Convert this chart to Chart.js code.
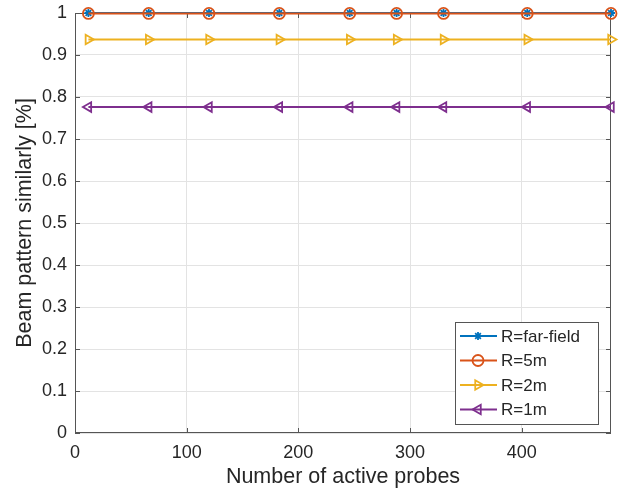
<!DOCTYPE html>
<html>
<head>
<meta charset="utf-8">
<script src="https://cdn.jsdelivr.net/npm/chart.js@4/dist/chart.umd.min.js"></script>
<style>
  html, body { margin: 0; padding: 0; background: #fff; }
  #wrap { width: 634px; height: 493px; }
</style>
</head>
<body>
<div id="wrap"><canvas id="beamChart" width="634" height="493"></canvas></div>
<script>
/* --------------- Data --------------------- */
const activeProbes = [12, 66, 120, 183, 246, 288, 330, 405, 480];
const simFarField = [1, 1, 1, 1, 1, 1, 1, 1, 1];
const sim5m = [0.999, 0.999, 0.999, 0.999, 0.999, 0.999, 0.999, 0.999, 0.999];
const sim2m = [0.937, 0.937, 0.937, 0.937, 0.937, 0.937, 0.937, 0.937, 0.937];
const sim1m = [0.776, 0.776, 0.776, 0.776, 0.776, 0.776, 0.776, 0.776, 0.776];
const seriesLabels = ["R=far-field", "R=5m", "R=2m", "R=1m"];
const xTicks = [0, 100, 200, 300, 400];
const yTicks = [0, 0.1, 0.2, 0.3, 0.4, 0.5, 0.6, 0.7, 0.8, 0.9, 1];

const FONT = "'Liberation Sans', Arial, Helvetica, sans-serif";
const TEXT = "#262626";
const AXIS = "#555";

const pts = (ys) => activeProbes.map((x, i) => ({ x: x, y: ys[i] }));

const mkSet = (label, ys, color, style, rot, radius, order) => ({
  label: label,
  data: pts(ys),
  borderColor: color,
  backgroundColor: "transparent",
  borderWidth: 2,
  pointStyle: style,
  pointRotation: rot,
  pointRadius: radius,
  pointBorderWidth: 1.8,
  pointBorderColor: color,
  pointBackgroundColor: "transparent",
  clip: false,
  order: order,
});

/* --------------- Box + inward ticks, matlab style --------------------- */
const boxAxes = {
  id: "boxAxes",
  beforeDatasetsDraw(chart) {
    const { ctx, chartArea: a, scales } = chart;
    ctx.save();
    ctx.strokeStyle = AXIS;
    ctx.lineWidth = 1;
    ctx.strokeRect(a.left + 0.5, a.top + 0.5, a.right - a.left - 1, a.bottom - a.top - 1);
    const len = 5;
    ctx.beginPath();
    xTicks.forEach((v) => {
      const px = Math.round(scales.x.getPixelForValue(v)) + 0.5;
      ctx.moveTo(px, a.bottom); ctx.lineTo(px, a.bottom - len);
      ctx.moveTo(px, a.top); ctx.lineTo(px, a.top + len);
    });
    yTicks.forEach((v) => {
      const py = Math.round(scales.y.getPixelForValue(v)) + 0.5;
      ctx.moveTo(a.left, py); ctx.lineTo(a.left + len, py);
      ctx.moveTo(a.right, py); ctx.lineTo(a.right - len, py);
    });
    ctx.stroke();
    ctx.restore();
  },
  afterDraw(chart) {
    // legend box in the lower right corner of the axes
    const { ctx, chartArea: a } = chart;
    const sets = chart.data.datasets;
    const boxW = 143, rowH = 24.5;
    const boxH = rowH * sets.length + 4;
    const bx = a.right - 13 - boxW;
    const by = a.bottom - 9 - boxH;
    ctx.save();
    ctx.fillStyle = "#fff";
    ctx.fillRect(bx, by, boxW, boxH);
    ctx.strokeStyle = AXIS;
    ctx.lineWidth = 1;
    ctx.strokeRect(Math.round(bx) + 0.5, Math.round(by) + 0.5, boxW, boxH);
    ctx.font = "17px " + FONT;
    ctx.textBaseline = "middle";
    sets.forEach((ds, i) => {
      const cy = by + 14 + i * rowH;
      ctx.strokeStyle = ds.borderColor;
      ctx.lineWidth = 2;
      ctx.beginPath();
      ctx.moveTo(bx + 5, cy);
      ctx.lineTo(bx + 42, cy);
      ctx.stroke();
      ctx.lineWidth = ds.pointBorderWidth;
      ctx.fillStyle = "rgba(0,0,0,0)";
      Chart.helpers.drawPoint(ctx, {
        pointStyle: ds.pointStyle,
        rotation: ds.pointRotation,
        radius: ds.pointRadius,
        borderWidth: ds.pointBorderWidth,
      }, bx + 23, cy);
      ctx.fillStyle = TEXT;
      ctx.fillText(ds.label, bx + 46, cy + 1);
    });
    ctx.restore();
  },
};

/* --------------- Chart --------------------- */
const beamChart = new Chart(document.getElementById("beamChart"), {
  type: "line",
  plugins: [boxAxes],
  data: {
    datasets: [
      mkSet(seriesLabels[0], simFarField, "#0072BD", "star", 0, 4, 4),
      mkSet(seriesLabels[1], sim5m, "#D95319", "circle", 0, 5.5, 3),
      mkSet(seriesLabels[2], sim2m, "#EDB120", "triangle", 90, 5.5, 2),
      mkSet(seriesLabels[3], sim1m, "#7E2F8E", "triangle", -90, 5.5, 1),
    ],
  },
  options: {
    responsive: false,
    animation: false,
    layout: { padding: { top: 13, right: 23, left: 0, bottom: 0 } },
    plugins: {
      legend: { display: false },
      tooltip: { enabled: false },
    },
    scales: {
      x: {
        type: "linear",
        min: 0,
        max: 480,
        afterBuildTicks: (s) => { s.ticks = xTicks.map((v) => ({ value: v })); },
        afterFit: (s) => { s.height = 60; },
        grid: { color: "#e3e3e3", drawTicks: false },
        border: { display: false },
        ticks: {
          color: TEXT,
          padding: 9,
          maxRotation: 0,
          font: { family: FONT, size: 18 },
        },
        title: {
          display: true,
          text: "Number of active probes",
          color: TEXT,
          padding: { top: 0, bottom: 3 },
          font: { family: FONT, size: 21.5 },
        },
      },
      y: {
        min: 0,
        max: 1,
        afterBuildTicks: (s) => { s.ticks = yTicks.map((v) => ({ value: v })); },
        afterFit: (s) => { s.width = 75; s.paddingTop = 0; s.paddingBottom = 0; },
        grid: { color: "#e3e3e3", drawTicks: false },
        border: { display: false },
        ticks: {
          color: TEXT,
          padding: 8,
          font: { family: FONT, size: 18 },
          callback: (v) => String(Math.round(v * 10) / 10),
        },
        title: {
          display: true,
          text: "Beam pattern similarly [%]",
          color: TEXT,
          padding: { top: 12, bottom: 4 },
          font: { family: FONT, size: 21.5 },
        },
      },
    },
  },
});
</script>
</body>
</html>
